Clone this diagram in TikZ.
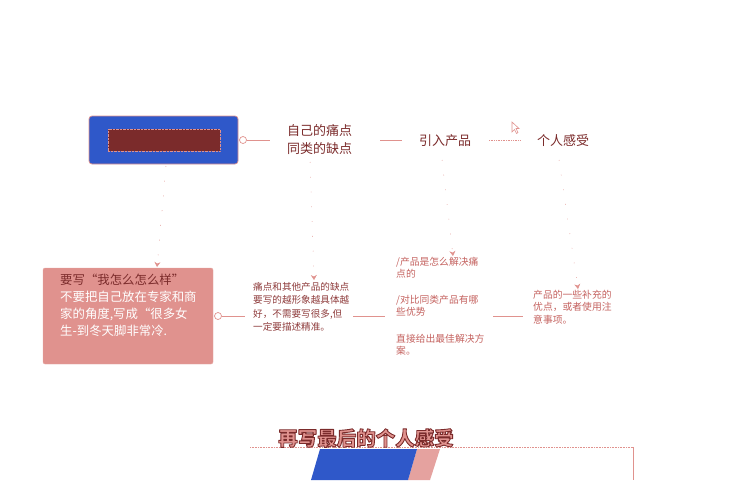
\documentclass[tikz,border=0pt]{standalone}
\usepackage{fontspec}
\setmainfont{Noto Sans CJK SC}
\usetikzlibrary{arrows.meta}
\definecolor{dred}{HTML}{7B2B2B}
\definecolor{salmon}{HTML}{E0928E}
\definecolor{bblue}{HTML}{2F58C9}
\definecolor{midred}{HTML}{8E3B3B}
\definecolor{softred}{HTML}{C4625F}
\newcommand{\outlinedtext}[1]{\special{pdf:literal 2 Tr 0.9 w 1 j 0.482 0.169 0.169 RG}#1\special{pdf:literal 0 Tr}}
\tikzset{
  lbl/.style={text=dred, font=\fontsize{13}{18}\selectfont, align=center, inner sep=0},
  note/.style={font=\fontsize{9.6}{13.5}\selectfont, align=left, inner sep=0, anchor=north west},
  link/.style={draw=salmon, line width=0.7pt},
  faint/.style={draw=salmon, line width=0.5pt, dash pattern=on 0.8pt off 14pt, -{Stealth[length=5pt,width=6pt]}},
  knob/.style={circle, draw=salmon, fill=white, line width=0.7pt, minimum size=7pt, inner sep=0},
}
\begin{document}
\begin{tikzpicture}[x=1pt,y=-1pt]
\useasboundingbox (0,0) rectangle (730,480);
% top row
\node[draw=salmon, fill=bblue, rounded corners=3pt, minimum width=149pt, minimum height=48pt, line width=0.7pt] (main) at (163.5,140) {};
\node[fill=dred, draw=salmon, densely dotted, minimum width=112pt, minimum height=22pt, inner sep=0] (inner) at (164,140) {};
\node[knob] (c1) at (243,140) {};
\coordinate (c1e) at (270,140);
\draw[link] (c1) -- (c1e);
\node[lbl] (t1) at (319.5,140) {自己的痛点\\同类的缺点};
\coordinate (l2a) at (380,140);
\coordinate (l2b) at (402,140);
\draw[link] (l2a) -- (l2b);
\node[lbl] (t2) at (445,141) {引入产品};
\coordinate (l3a) at (489,140);
\coordinate (l3b) at (521,140);
\draw[link, densely dotted] (l3a) -- (l3b);
\node[lbl] (t3) at (563,141) {个人感受};
% cursor
\draw[salmon, line width=0.6pt, fill=white] (512,122) -- (512,132) -- (514.5,129.5) -- (516.5,133.5) -- (518,132.5) -- (516,128.5) -- (519,128.5) -- cycle;
% lower row
\node[fill=salmon, draw=salmon!80!white, rounded corners=2pt, minimum width=170pt, minimum height=96pt] (pink) at (128,316) {};
\node[inner sep=0, anchor=north west, align=left, font=\fontsize{12.4}{17}\selectfont] (ptxt) at (60,274)
 {\textcolor{dred}{要写“我怎么怎么样”}\\
  \textcolor{white}{不要把自己放在专家和商}\\
  \textcolor{white}{家的角度,写成“很多女}\\
  \textcolor{white}{生-到冬天脚非常冷.}};
\node[knob] (c2) at (218,316) {};
\coordinate (c2e) at (245,316);
\draw[link] (c2) -- (c2e);
\node[note, text=midred] (mtxt) at (253,282) {痛点和其他产品的缺点\\要写的越形象越具体越\\好，不需要写很多,但\\一定要描述精准。};
\coordinate (l5a) at (353,316);
\coordinate (l5b) at (385,316);
\draw[link] (l5a) -- (l5b);
\node[note, text=softred, font=\fontsize{9.8}{12.5}\selectfont] (q1) at (396,257) {/产品是怎么解决痛\\点的};
\node[note, text=softred, font=\fontsize{9.8}{12.5}\selectfont] (q2) at (396,295) {/对比同类产品有哪\\些优势};
\node[note, text=softred, font=\fontsize{9.8}{12.5}\selectfont] (q3) at (396,334) {直接给出最佳解决方\\案。};
\coordinate (l6a) at (493,316);
\coordinate (l6b) at (523,316);
\draw[link] (l6a) -- (l6b);
\node[note, text=softred, font=\fontsize{9.8}{12.5}\selectfont] (rtxt) at (533,290) {产品的一些补充的\\优点，或者使用注\\意事项。};
% faint connectors
\coordinate (a1) at (166,166);
\coordinate (b1) at (157,267);
\draw[faint] (a1) -- (b1);
\coordinate (a2) at (310,162);
\coordinate (b2) at (314,280);
\draw[faint] (a2) -- (b2);
\coordinate (a3) at (442,160);
\coordinate (b3) at (453,256);
\draw[faint] (a3) -- (b3);
\coordinate (a4) at (559,160);
\coordinate (b4) at (578,289);
\draw[faint] (a4) -- (b4);
% bottom
\fill[salmon!85!white] (417,449) -- (440,449) -- (430,480) -- (408,480) -- cycle;
\fill[bblue] (320,449) -- (417,449) -- (408,480) -- (311,480) -- cycle;
\coordinate (d1) at (250,447);
\coordinate (d2) at (633,447);
\coordinate (d3) at (633,480);
\draw[salmon, line width=0.6pt, densely dotted] (d1) -- (d2);
\draw[salmon, line width=0.8pt] (d2) -- (d3);
\node[inner sep=0, text=salmon, font=\bfseries\fontsize{19.5}{22}\selectfont] (title) at (366,438) {\outlinedtext{再写最后的个人感受}};
\end{tikzpicture}
\end{document}
